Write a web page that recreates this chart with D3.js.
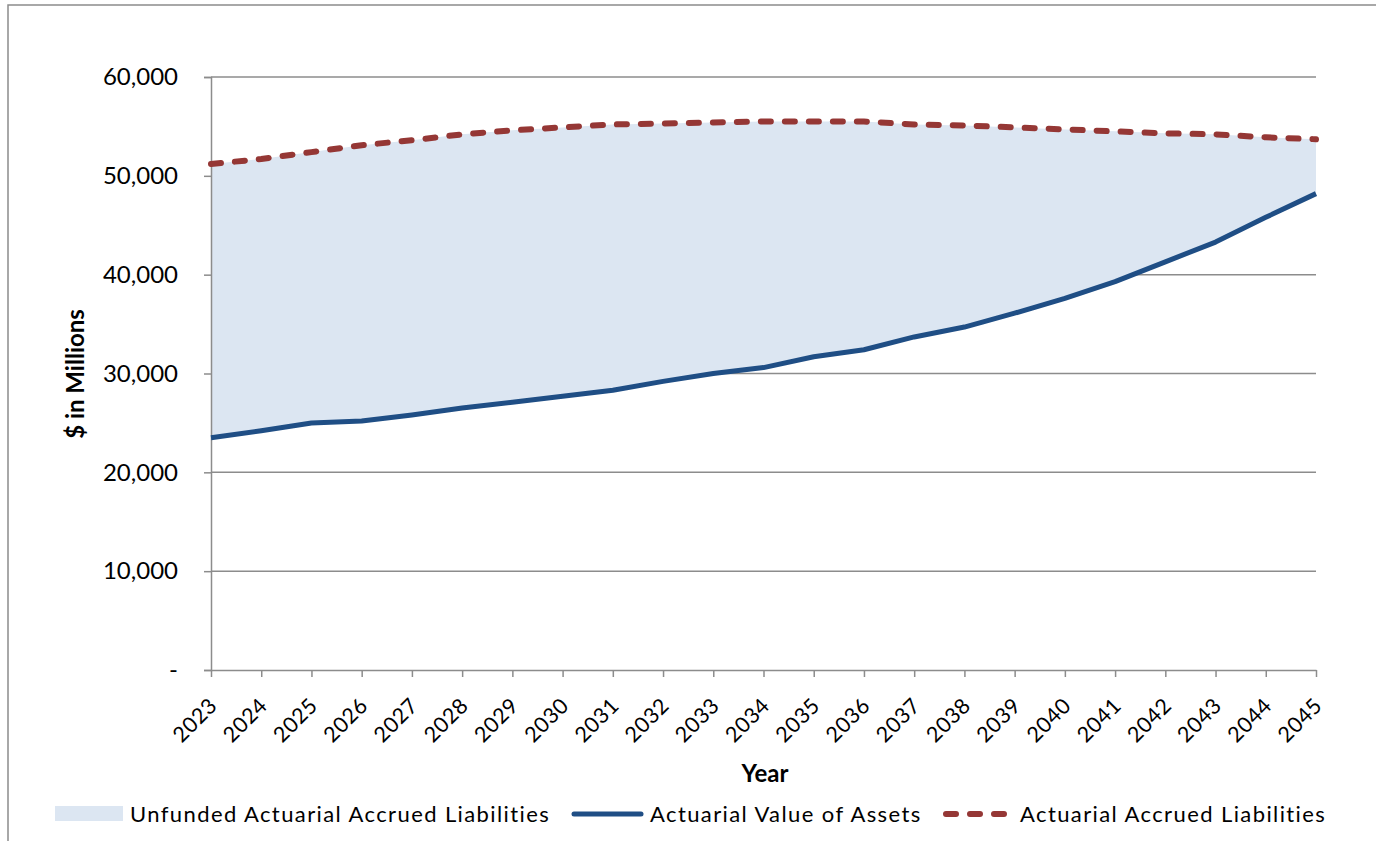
<!DOCTYPE html>
<html>
<head>
<meta charset="utf-8">
<script src="https://cdn.jsdelivr.net/npm/d3@7"></script>
<style>
  html, body { margin: 0; padding: 0; background: #fff; }
  svg { display: block; }
  text { font-family: Lato, "Open Sans", sans-serif; fill: #000; }
</style>
</head>
<body>
<svg id="chart" width="1376" height="841"></svg>
<script>
// Plan years on the category axis
const years = ["2023","2024","2025","2026","2027","2028","2029","2030","2031","2032","2033",
               "2034","2035","2036","2037","2038","2039","2040","2041","2042","2043","2044","2045"];

// Actuarial Value of Assets ($ millions)
const assets = [23500, 24200, 25000, 25200, 25800, 26500, 27100, 27700, 28300, 29200, 30000,
                30600, 31700, 32400, 33700, 34700, 36100, 37600, 39300, 41300, 43300, 45800, 48200];

// Actuarial Accrued Liabilities ($ millions)
const liabilities = [51200, 51700, 52400, 53100, 53600, 54200, 54600, 54900, 55200, 55300, 55400,
                     55500, 55500, 55500, 55200, 55100, 54900, 54700, 54500, 54300, 54200, 53900, 53700];

// Value axis ticks
const yTicks = [0, 10000, 20000, 30000, 40000, 50000, 60000];

const legendLabels = ["Unfunded Actuarial Accrued Liabilities", "Actuarial Value of Assets", "Actuarial Accrued Liabilities"];

const colors = { fill: "#DCE6F2", assets: "#1F4E85", liab: "#953735", grid: "#8C8C8C" };

const svg = d3.select("#chart");

// outer chart frame
svg.append("rect")
  .attr("x", 8).attr("y", 5).attr("width", 1400).attr("height", 900)
  .attr("fill", "none").attr("stroke", "#8C8C8C").attr("stroke-width", 1.5);

const plot = { left: 211, right: 1316, top: 77, bottom: 670 };

const x = d3.scalePoint().domain(years).range([plot.left, plot.right]);
const y = d3.scaleLinear().domain([0, 60000]).range([plot.bottom, plot.top]);

const rows = years.map((yr, i) => ({ year: yr, a: assets[i], l: liabilities[i] }));

// horizontal gridlines
svg.append("g").selectAll("line")
  .data(yTicks.filter(t => t > 0))
  .join("line")
  .attr("x1", plot.left).attr("x2", plot.right)
  .attr("y1", d => y(d)).attr("y2", d => y(d))
  .attr("stroke", colors.grid).attr("stroke-width", 1.5);

// unfunded band between assets and liabilities
svg.append("path")
  .datum(rows)
  .attr("fill", colors.fill)
  .attr("d", d3.area().x(d => x(d.year)).y0(d => y(d.a)).y1(d => y(d.l)));

// value axis
const yAxis = svg.append("g")
  .attr("transform", `translate(${plot.left},0)`)
  .call(d3.axisLeft(y).tickValues(yTicks).tickSize(7).tickPadding(26)
    .tickFormat(d => d === 0 ? "-" : d3.format(",")(d)));
yAxis.select(".domain").attr("stroke", colors.grid).attr("stroke-width", 1.5);
yAxis.selectAll(".tick line").attr("stroke", colors.grid).attr("stroke-width", 1.5);
yAxis.selectAll(".tick text").style("font-size", "24px").attr("fill", "#000");

// category axis
const xAxis = svg.append("g")
  .attr("transform", `translate(0,${plot.bottom})`)
  .call(d3.axisBottom(x).tickSize(7).tickSizeOuter(0));
xAxis.select(".domain").attr("stroke", colors.grid).attr("stroke-width", 1.5);
xAxis.selectAll(".tick line").attr("stroke", colors.grid).attr("stroke-width", 1.5);
xAxis.selectAll(".tick text")
  .style("font-size", "21.5px").style("letter-spacing", "0.5px").attr("fill", "#000")
  .attr("text-anchor", "end")
  .attr("dy", null).attr("y", null)
  .attr("transform", "translate(7,37) rotate(-45)");

// assets line
svg.append("path")
  .datum(rows)
  .attr("fill", "none").attr("stroke", colors.assets).attr("stroke-width", 5)
  .attr("stroke-linejoin", "round")
  .attr("d", d3.line().x(d => x(d.year)).y(d => y(d.a)));

// liabilities line (dashed)
svg.append("path")
  .datum(rows)
  .attr("fill", "none").attr("stroke", colors.liab).attr("stroke-width", 6)
  .attr("stroke-dasharray", "10 14").attr("stroke-linecap", "round")
  .attr("stroke-linejoin", "round")
  .attr("d", d3.line().x(d => x(d.year)).y(d => y(d.l)));

// axis titles
svg.append("text")
  .attr("transform", `translate(84,374) rotate(-90)`)
  .attr("text-anchor", "middle")
  .style("font-size", "24px").style("font-weight", "bold")
  .text("$ in Millions");

svg.append("text")
  .attr("x", 765).attr("y", 782)
  .attr("text-anchor", "middle")
  .style("font-size", "24px").style("font-weight", "bold")
  .text("Year");

// legend
const legend = svg.append("g").style("font-size", "22px").style("letter-spacing", "1.4px");
const ly = 814;
legend.append("rect").attr("x", 55).attr("y", ly - 8).attr("width", 68).attr("height", 15).attr("fill", colors.fill);
legend.append("text").attr("x", 130).attr("y", ly + 8).text(legendLabels[0]);

legend.append("line").attr("x1", 574).attr("x2", 641).attr("y1", ly).attr("y2", ly)
  .attr("stroke", colors.assets).attr("stroke-width", 5).attr("stroke-linecap", "round");
legend.append("text").attr("x", 650).attr("y", ly + 8).text(legendLabels[1]);

legend.append("line").attr("x1", 946).attr("x2", 1012).attr("y1", ly).attr("y2", ly)
  .attr("stroke", colors.liab).attr("stroke-width", 6).attr("stroke-linecap", "round")
  .attr("stroke-dasharray", "10 14");
legend.append("text").attr("x", 1020).attr("y", ly + 8).text(legendLabels[2]);
</script>
</body>
</html>
